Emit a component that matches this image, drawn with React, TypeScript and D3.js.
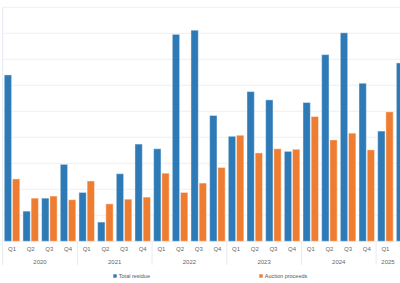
import React from "react";
import { scaleBand, scaleLinear } from "d3";

const years = ["2020", "2021", "2022", "2023", "2024", "2025"];
const quarters = ["Q1", "Q2", "Q3", "Q4"];
const seriesNames = ["Total residue", "Auction proceeds"];
const seriesColors = ["#2e7ab6", "#ee7d31"];

// values, one per quarter from 2020 Q1 to 2025 Q2
const totalResidue = [320, 58, 83, 148, 94, 37, 130, 187, 178, 398, 406, 242, 202, 288, 272, 173, 267, 359, 401, 304, 212, 343];
const auctionProceeds = [120, 83, 87, 80, 116, 72, 81, 85, 131, 94, 112, 142, 204, 170, 178, 177, 240, 195, 208, 176, 249, 200];
const yTicks = [0, 50, 100, 150, 200, 250, 300, 350, 400, 450];

const W = 400;
const H = 283;
const plotLeft = 2.7;
const plotTop = 7.3;
const plotBottom = 241.3;
const step = 18.67;

const periods = years
  .flatMap((y) => quarters.map((q) => ({ year: y, quarter: q })))
  .slice(0, totalResidue.length);

const App = () => {
  const x = scaleBand<number>()
    .domain(periods.map((_, i) => i))
    .range([plotLeft, plotLeft + step * periods.length])
    .padding(0);

  const inner = scaleBand<number>()
    .domain([0, 1])
    .range([0, x.bandwidth()])
    .paddingInner(0.1)
    .paddingOuter(0.19);

  const y = scaleLinear().domain([0, 450]).range([plotBottom, plotTop]);

  const series = [totalResidue, auctionProceeds];

  const yearGroups = years.map((yr) => {
    const idx = periods.map((p, i) => (p.year === yr ? i : -1)).filter((i) => i >= 0);
    const start = x(idx[0])!;
    const end = x(idx[idx.length - 1])! + x.bandwidth();
    const visEnd = Math.min(end, W);
    return { yr, start, end, center: (start + visEnd) / 2 };
  });

  const font = "'Liberation Sans', Arial, sans-serif";

  return (
    <svg
      width={W}
      height={H}
      style={{ position: "absolute", left: 0, top: 0, display: "block", background: "#fff" }}
    >
      {yTicks.map((t) => (
        <line key={t} x1={plotLeft} x2={W} y1={y(t)} y2={y(t)} stroke="#efefef" strokeWidth={1} />
      ))}
      <line x1={plotLeft} x2={plotLeft} y1={plotTop} y2={265} stroke="#e6ebf2" strokeWidth={1} />

      {series.map((vals, s) => (
        <g key={s}>
          {vals.map((v, i) => (
            <rect
              key={i}
              x={x(i)! + inner(s)!}
              y={y(v)}
              width={inner.bandwidth()}
              height={plotBottom - y(v)}
              fill={seriesColors[s]}
              stroke="#fff"
              strokeOpacity={0.45}
              strokeWidth={1}
            />
          ))}
        </g>
      ))}

      {periods.map((p, i) =>
        // labels whose band runs past the picture's right edge are not shown
        x(i)! + x.bandwidth() > W ? null : (
          <text
            key={i}
            x={x(i)! + x.bandwidth() / 2}
            y={249}
            dy="0.35em"
            textAnchor="middle"
            fontFamily={font}
            fontSize={6}
            fill="#666"
          >
            {p.quarter}
          </text>
        )
      )}

      {yearGroups.map((g) => (
        <g key={g.yr}>
          <line x1={g.end} x2={g.end} y1={plotBottom} y2={265} stroke="#e6ebf2" strokeWidth={1} />
          <text
            x={g.center}
            y={261.7}
            dy="0.35em"
            textAnchor="middle"
            fontFamily={font}
            fontSize={6}
            fill="#666"
          >
            {g.yr}
          </text>
        </g>
      ))}

      {seriesNames.map((name, s) => {
        const lx = s === 0 ? 113.3 : 259.3;
        return (
          <g key={name}>
            <rect x={lx} y={274.3} width={3.4} height={3.4} fill={seriesColors[s]} />
            <text x={lx + 5.5} y={276} dy="0.35em" fontFamily={font} fontSize={5.5} fill="#555">
              {name}
            </text>
          </g>
        );
      })}
    </svg>
  );
};

export default App;
